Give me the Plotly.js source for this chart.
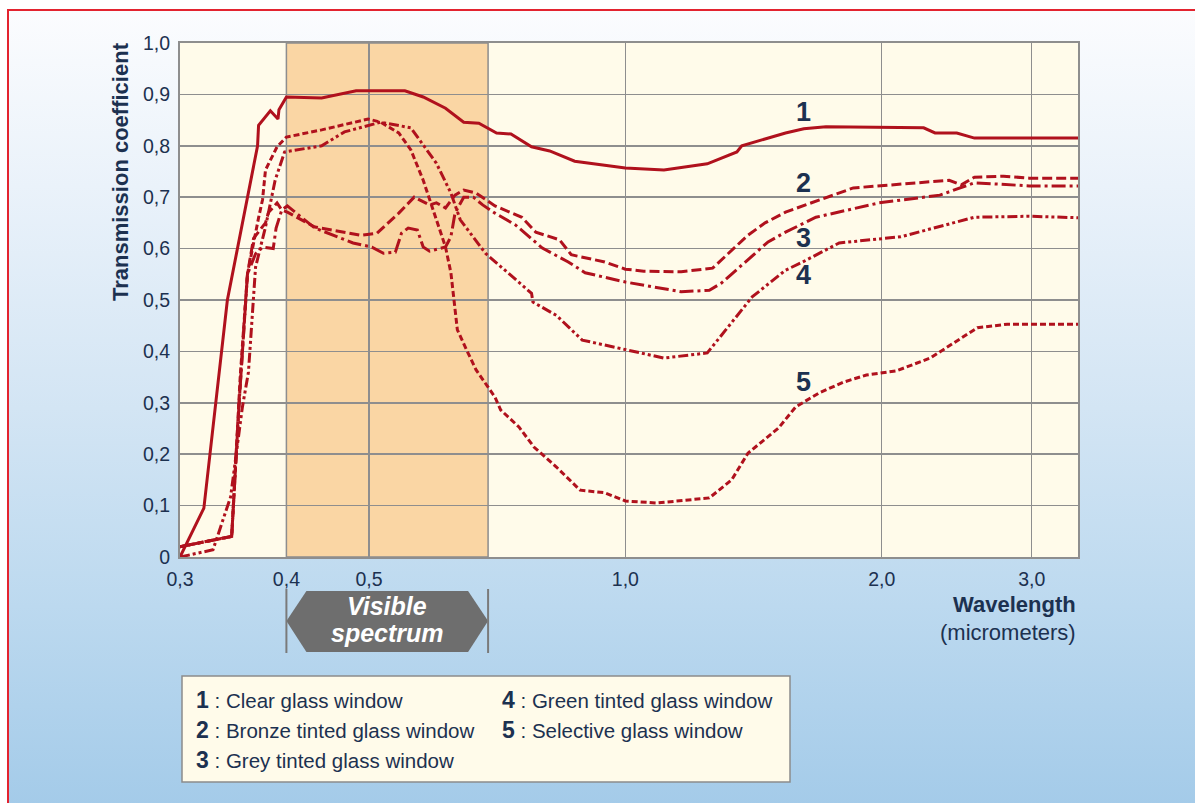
<!DOCTYPE html>
<html>
<head>
<meta charset="utf-8">
<script src="https://cdn.plot.ly/plotly-3.0.1.min.js"></script>
<style>
html,body{margin:0;padding:0;background:#ffffff;}
#frame{position:absolute;left:7px;top:9px;width:1188px;height:794px;border-left:2px solid #e3232f;border-top:2px solid #e3232f;
background:linear-gradient(to bottom,#fbfcfe 0%,#eaf2fa 22%,#d3e5f4 50%,#bcd9ef 75%,#a4cbe9 100%);}
#chart{position:absolute;left:0;top:0;width:1195px;height:803px;}
</style>
</head>
<body>
<div id="frame"></div>
<div id="chart"></div>
<script>
// ---- data (wavelength in micrometers, transmission coefficient) ----
const wl1 = [0.3,0.32,0.341,0.37,0.371,0.383,0.391,0.392,0.4,0.44,0.483,0.551,0.579,0.615,0.646,0.673,0.706,0.734,0.776,0.815,0.872,1.0,1.11,1.248,1.352,1.37,1.542,1.62,1.72,2.24,2.31,2.45,2.57,3.4];
const t1  = [0,0.095,0.5,0.8,0.84,0.868,0.852,0.87,0.895,0.893,0.907,0.907,0.895,0.873,0.846,0.844,0.825,0.823,0.798,0.79,0.77,0.757,0.753,0.765,0.788,0.8,0.825,0.833,0.837,0.835,0.825,0.825,0.815,0.815];

const wl2 = [0.3,0.345,0.352,0.36,0.366,0.378,0.381,0.39,0.395,0.401,0.432,0.489,0.511,0.542,0.565,0.589,0.6,0.615,0.631,0.646,0.668,0.703,0.756,0.785,0.837,0.864,0.946,1.0,1.051,1.163,1.266,1.393,1.459,1.542,1.628,1.852,2.4,2.48,2.57,2.78,2.98,3.4];
const t2  = [0.02,0.04,0.3,0.55,0.62,0.65,0.67,0.689,0.675,0.671,0.642,0.626,0.63,0.669,0.70,0.685,0.689,0.679,0.704,0.714,0.708,0.683,0.661,0.632,0.617,0.588,0.574,0.56,0.556,0.555,0.562,0.626,0.65,0.671,0.685,0.718,0.733,0.724,0.739,0.741,0.737,0.737];

const wl3 = [0.3,0.345,0.352,0.36,0.368,0.375,0.386,0.389,0.395,0.401,0.432,0.479,0.504,0.52,0.537,0.546,0.556,0.57,0.579,0.589,0.615,0.624,0.631,0.646,0.663,0.68,0.703,0.743,0.799,0.857,0.897,1.0,1.163,1.255,1.297,1.382,1.471,1.542,1.674,1.986,2.34,2.57,2.98,3.4];
const t3  = [0.02,0.04,0.3,0.55,0.59,0.603,0.6,0.64,0.675,0.683,0.64,0.611,0.603,0.591,0.593,0.63,0.64,0.636,0.603,0.595,0.603,0.623,0.669,0.7,0.7,0.685,0.669,0.646,0.601,0.574,0.553,0.535,0.516,0.519,0.533,0.574,0.613,0.632,0.661,0.689,0.704,0.728,0.722,0.722];

const wl4 = [0.3,0.328,0.344,0.355,0.361,0.365,0.368,0.378,0.388,0.398,0.44,0.468,0.516,0.56,0.6,0.624,0.64,0.685,0.776,0.779,0.83,0.89,1.0,1.11,1.248,1.409,1.542,1.615,1.783,2.106,2.57,2.98,3.4];
const t4  = [0,0.014,0.117,0.29,0.36,0.49,0.564,0.642,0.733,0.788,0.8,0.827,0.846,0.835,0.766,0.708,0.656,0.591,0.513,0.496,0.47,0.422,0.403,0.387,0.397,0.506,0.558,0.574,0.611,0.623,0.661,0.663,0.66];

const wl5 = [0.3,0.345,0.353,0.36,0.371,0.375,0.378,0.39,0.4,0.44,0.499,0.516,0.542,0.56,0.579,0.6,0.615,0.624,0.635,0.651,0.668,0.703,0.714,0.75,0.781,0.83,0.885,0.946,1.0,1.089,1.255,1.333,1.393,1.513,1.585,1.688,1.802,1.919,2.08,2.28,2.59,2.81,3.4];
const t5  = [0.02,0.04,0.35,0.55,0.66,0.695,0.753,0.798,0.817,0.831,0.852,0.846,0.825,0.792,0.733,0.656,0.603,0.553,0.442,0.403,0.364,0.311,0.286,0.253,0.214,0.175,0.13,0.125,0.109,0.105,0.115,0.15,0.202,0.251,0.292,0.319,0.34,0.354,0.362,0.387,0.446,0.453,0.453];

const seriesNames = ['Clear glass window','Bronze tinted glass window','Grey tinted glass window','Green tinted glass window','Selective glass window'];
const xTickVals = [0.3,0.4,0.5,1.0,2.0,3.0];
const xTickText = ['0,3','0,4','0,5','1,0','2,0','3,0'];
const yTickVals = [0,0.1,0.2,0.3,0.4,0.5,0.6,0.7,0.8,0.9,1.0];
const yTickText = ['0','0,1','0,2','0,3','0,4','0,5','0,6','0,7','0,8','0,9','1,0'];
const visibleRange = [0.4, 0.69];
const labelWl = 1.62;
const labelT = [0.866, 0.727, 0.62, 0.548, 0.34];

// ---- styling ----
const XMIN = 0.3, XMAX = 3.4;
const RED = '#b0111d';
const NAVY = '#1c3150';
const FONT = 'Liberation Sans, Arial, Helvetica, sans-serif';
const dashes = ['solid','10px,4px','14px,4px,3px,4px','10px,3px,3px,3px,3px,3px','6px,3px'];
const xs = [wl1,wl2,wl3,wl4,wl5];
const ys = [t1,t2,t3,t4,t5];

const traces = xs.map((x,i)=>({
  type:'scatter', mode:'lines', x:x, y:ys[i], name:seriesNames[i],
  line:{color:RED, width:3, dash:dashes[i]}, hoverinfo:'skip'
}));

const fx = v => (Math.log10(v)-Math.log10(XMIN))/(Math.log10(XMAX)-Math.log10(XMIN));
// plot area: 180..1078 px horizontally, 43..557 px vertically
const W = 898, H = 514;
const py = p => (557 - p)/H;   // pixel y -> paper y
const pxp = p => (p - 180)/W;  // pixel x -> paper x

const xa = fx(visibleRange[0]), xb = fx(visibleRange[1]);
const tip = 20/W;
const arrowPath = `M ${xa},${py(621)} L ${xa+tip},${py(591)} L ${xb-tip},${py(591)} L ${xb},${py(621)} L ${xb-tip},${py(652)} L ${xa+tip},${py(652)} Z`;

const shapes = [
  {type:'rect', xref:'x', yref:'paper', x0:visibleRange[0], x1:visibleRange[1], y0:0, y1:1,
   fillcolor:'#fad6a4', line:{color:'#8c8c8c', width:1.5}, layer:'below'},
  {type:'path', xref:'paper', yref:'paper', path:arrowPath, fillcolor:'#6e6e6e', line:{width:0}},
  {type:'line', xref:'paper', yref:'paper', x0:xa, x1:xa, y0:py(589), y1:py(653), line:{color:'#7a7a7a', width:2}},
  {type:'line', xref:'paper', yref:'paper', x0:xb, x1:xb, y0:py(589), y1:py(653), line:{color:'#7a7a7a', width:2}},
  {type:'rect', xref:'paper', yref:'paper', x0:pxp(182), x1:pxp(790), y0:py(676), y1:py(782),
   fillcolor:'#fffbea', line:{color:'#8c8c8c', width:1.5}}
];

const annotations = [
  {xref:'paper', yref:'paper', x:pxp(120), xanchor:'center', y:py(172), yanchor:'middle', text:'<b>Transmission coefficient</b>', textangle:-90,
   showarrow:false, font:{family:FONT, size:22, color:NAVY}},
  {xref:'paper', yref:'paper', x:1, xanchor:'right', y:py(604), yanchor:'middle', text:'<b>Wavelength</b>',
   showarrow:false, font:{family:FONT, size:22, color:NAVY}},
  {xref:'paper', yref:'paper', x:1, xanchor:'right', y:py(632), yanchor:'middle', text:'(micrometers)',
   showarrow:false, font:{family:FONT, size:22, color:NAVY}},
  {xref:'paper', yref:'paper', x:(xa+xb)/2, xanchor:'center', y:py(606), yanchor:'middle', text:'<b><i>Visible</i></b>',
   showarrow:false, font:{family:FONT, size:25, color:'#ffffff'}},
  {xref:'paper', yref:'paper', x:(xa+xb)/2, xanchor:'center', y:py(633), yanchor:'middle', text:'<b><i>spectrum</i></b>',
   showarrow:false, font:{family:FONT, size:25, color:'#ffffff'}}
];
labelT.forEach((t,i)=>{
  annotations.push({xref:'x', yref:'y', x:Math.log10(labelWl), y:t, text:'<b>'+(i+1)+'</b>', showarrow:false,
    font:{family:FONT, size:27, color:NAVY}});
});
const legendPos = [[194,700],[194,730],[194,760],[500,700],[500,730]];
seriesNames.forEach((name,k)=>{
  annotations.push({xref:'paper', yref:'paper', x:pxp(legendPos[k][0]), xanchor:'left', y:py(legendPos[k][1]), yanchor:'middle',
    text:'<span style="font-size:23px"><b>'+(k+1)+'</b></span> : '+name, showarrow:false,
    font:{family:FONT, size:20.5, color:NAVY}});
});

const axisCommon = {
  showgrid:true, gridcolor:'#8e8e8e', gridwidth:1.5, zeroline:false,
  showline:true, linecolor:'#8e8e8e', linewidth:2, mirror:true, ticks:'',
  tickfont:{family:FONT, size:19.5, color:NAVY}, fixedrange:true, ticklabelstandoff:4
};

const layout = {
  width:1195, height:803,
  margin:{l:180, r:117, t:43, b:246},
  paper_bgcolor:'rgba(0,0,0,0)', plot_bgcolor:'#fffbea',
  showlegend:false,
  xaxis:Object.assign({}, axisCommon, {type:'log', range:[Math.log10(XMIN), Math.log10(XMAX)],
    tickmode:'array', tickvals:xTickVals, ticktext:xTickText}),
  yaxis:Object.assign({}, axisCommon, {range:[0,1], tickmode:'array', tickvals:yTickVals, ticktext:yTickText}),
  shapes:shapes, annotations:annotations
};

Plotly.newPlot('chart', traces, layout, {staticPlot:true, displayModeBar:false});
</script>
</body>
</html>
